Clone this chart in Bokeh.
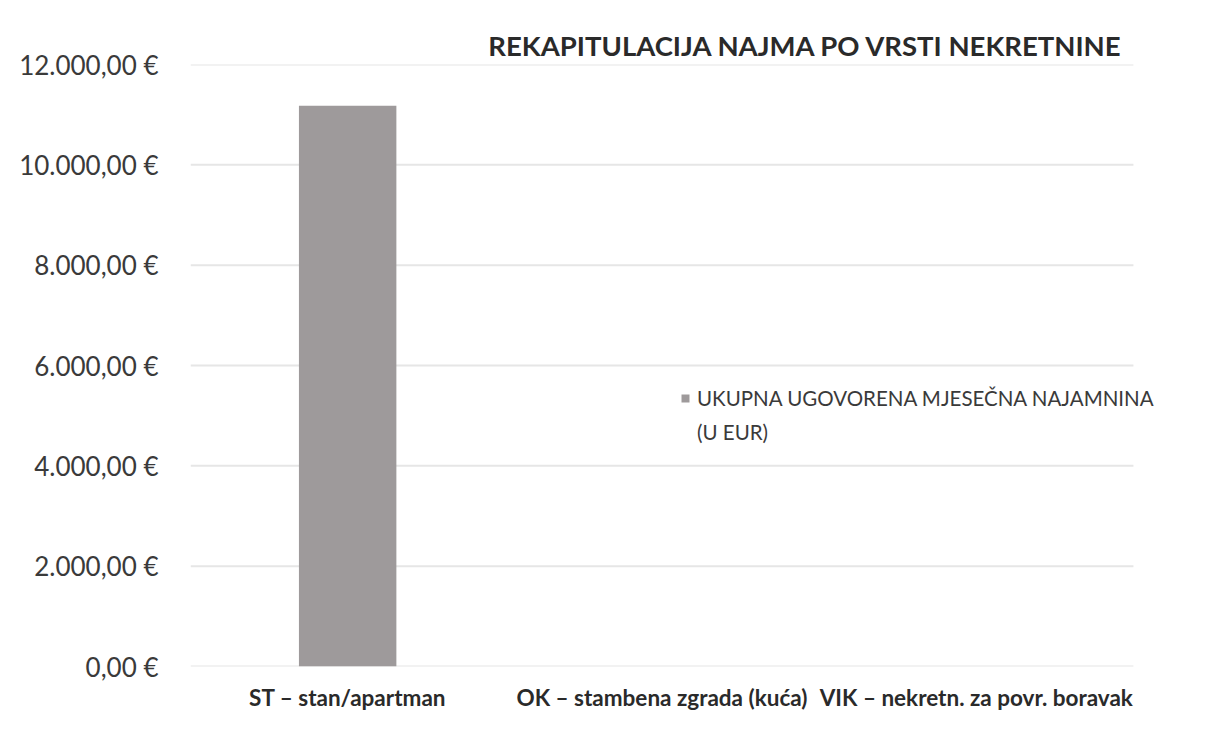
from bokeh.plotting import figure
from bokeh.models import Range1d, Legend, LegendItem, BoxAnnotation, Title, ColumnDataSource, FixedTicker
from bokeh.embed import file_html
from bokeh.resources import INLINE

categories = ["ST – stan/apartman", "OK – stambena zgrada (kuća)", "VIK – nekretn. za povr. boravak"]
values = [11180, 0, 0]
series_name = ["UKUPNA UGOVORENA MJESEČNA NAJAMNINA", "(U EUR)"]
title_text = "REKAPITULACIJA NAJMA PO VRSTI NEKRETNINE"
tick_values = [0, 2000, 4000, 6000, 8000, 10000, 12000]
tick_labels = ["0,00 €", "2.000,00 €", "4.000,00 €", "6.000,00 €", "8.000,00 €", "10.000,00 €", "12.000,00 €"]

FONT = "Lato"
W, H = 1196, 718
n = len(categories)
xpos = [i + 0.5 for i in range(n)]

p = figure(x_range=Range1d(0, 3.102), y_range=Range1d(0, 12000),
           width=W, height=H, output_backend="svg", toolbar_location=None,
           min_border_left=190, min_border_right=31, min_border_top=64, min_border_bottom=52)
p.outline_line_color = None
p.background_fill_color = "white"
p.border_fill_color = "white"
p.xgrid.grid_line_color = None
p.ygrid.grid_line_color = None

# gridlines from the tick values, spanning the category area only
gsrc = ColumnDataSource(dict(x0=[0] * len(tick_values), x1=[n] * len(tick_values),
                             y=tick_values))
p.segment(x0="x0", x1="x1", y0="y", y1="y", source=gsrc, line_color="#e6e6e6", line_width=2)

src = ColumnDataSource(dict(x=xpos, val=values, cat=categories))
r = p.vbar(x="x", top="val", width=0.31, source=src, fill_color="#9e9a9b", line_color=None)
r_blank = p.vbar(x=[], top=[], width=0.31, fill_alpha=0, line_alpha=0)

# axes
p.yaxis.ticker = FixedTicker(ticks=tick_values)
p.yaxis.major_label_overrides = {v: l for v, l in zip(tick_values, tick_labels)}
p.yaxis.axis_line_color = None
p.yaxis.major_tick_line_color = None
p.yaxis.minor_tick_line_color = None
p.yaxis.major_label_text_font = FONT
p.yaxis.major_label_text_font_size = "26px"
p.yaxis.major_label_text_color = "#3a3a3a"
p.yaxis.major_label_standoff = 26

p.xaxis.ticker = FixedTicker(ticks=xpos)
p.xaxis.major_label_overrides = {x: c for x, c in zip(xpos, categories)}
p.xaxis.axis_line_color = None
p.xaxis.major_tick_line_color = None
p.xaxis.minor_tick_line_color = None
p.xaxis.major_label_text_font = FONT
p.xaxis.major_label_text_font_style = "bold"
p.xaxis.major_label_text_font_size = "22.5px"
p.xaxis.major_label_text_color = "#2a2a2a"
p.xaxis.major_label_standoff = 11

# title
t = Title(text=title_text, align="right", offset=42, text_font=FONT, text_font_style="bold",
          text_font_size="27.5px", text_color="#2a2a2a", standoff=6)
p.add_layout(t, "above")

# legend
legend = Legend(items=[LegendItem(label=series_name[0], renderers=[r]),
                       LegendItem(label=series_name[1], renderers=[r_blank])],
                location=(490, 222), spacing=10,
                glyph_width=10, glyph_height=10, label_standoff=7, padding=0, margin=0,
                border_line_color=None, background_fill_alpha=0,
                label_text_font=FONT, label_text_font_size="20.5px", label_text_color="#3a3a3a")
p.add_layout(legend, "center")

# chart area border (left, faint)
p.add_layout(BoxAnnotation(left=13, right=W + 50, top=14, bottom=H + 50,
                           left_units="canvas", right_units="canvas",
                           top_units="canvas", bottom_units="canvas",
                           fill_alpha=0, line_color="#dedede", line_width=2))

open("out.html", "w").write(file_html(p, INLINE))
